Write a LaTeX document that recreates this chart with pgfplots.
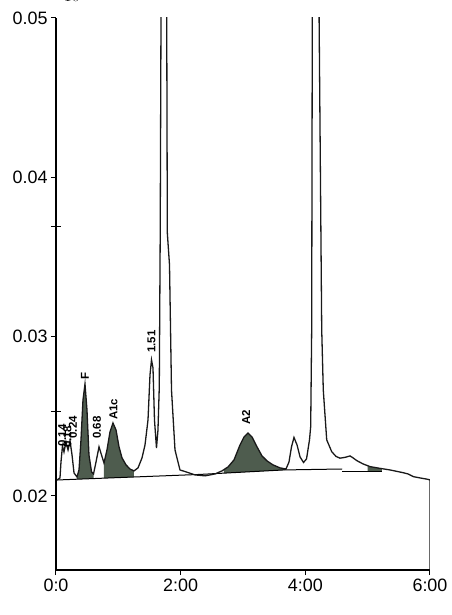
\documentclass[border=0pt]{standalone}
\usepackage{pgfplots}
\pgfplotsset{compat=1.18}
\usepackage{fontspec}
\setmainfont{Liberation Sans}
\definecolor{peakfill}{RGB}{78,92,78}
\definecolor{trace}{RGB}{25,25,25}
\tikzset{lbl/.style={rotate=90, anchor=west, inner sep=0pt, font=\bfseries\fontsize{11.5}{11.5}\selectfont}}

\begin{document}
\begin{tikzpicture}
\begin{axis}[
  scale only axis, width=374bp, height=552bp,
  xmin=0, xmax=6, ymin=0.01535, ymax=0.05,
  axis x line*=bottom, axis y line*=left,
  axis line style={line width=1.1bp, black},
  xtick={0,2,4,6}, xticklabels={0:0,2:00,4:00,6:00},
  ytick={0.02,0.03,0.04,0.05}, yticklabels={0.02,0.03,0.04,0.05},
  tick align=outside, major tick length=5bp,
  tick style={line width=1bp, black},
  ticklabel style={font=\fontsize{18}{18}\selectfont},
  extra y ticks={0.0253,0.0369}, extra y tick labels={},
  extra y tick style={tick align=center, major tick length=10bp},
  clip=true,
]
% shaded peaks
\addplot[fill=peakfill, draw=none] coordinates {(0.337,0.02119)(0.369,0.02163)(0.401,0.02352)(0.433,0.02603)(0.465,0.02703)(0.497,0.02540)(0.529,0.02257)(0.570,0.02151)(0.602,0.02138)(0.602,0.02109)(0.337,0.02105)} -- cycle;
\addplot[fill=peakfill, draw=none] coordinates {(0.770,0.02207)(0.818,0.02289)(0.866,0.02402)(0.914,0.02458)(0.963,0.02414)(1.011,0.02308)(1.059,0.02239)(1.123,0.02195)(1.187,0.02169)(1.251,0.02157)(1.251,0.02118)(0.770,0.02112)} -- cycle;
\addplot[fill=peakfill, draw=none] coordinates {(2.695,0.02165)(2.760,0.02182)(2.856,0.02226)(2.952,0.02320)(3.016,0.02370)(3.080,0.02395)(3.145,0.02370)(3.225,0.02308)(3.305,0.02251)(3.385,0.02220)(3.481,0.02195)(3.594,0.02176)(3.690,0.02169)(3.690,0.02163)(2.695,0.02143)} -- cycle;
\addplot[fill=peakfill, draw=none] coordinates {(5.000,0.02187)(5.038,0.02184)(5.198,0.02173)(5.230,0.02171)(5.230,0.02154)(5.000,0.02154)} -- cycle;
% integration baselines
\addplot[black, line width=1bp] coordinates {(0.016,0.02100)(2.310,0.02135)(3.650,0.02163)(4.590,0.02169)};
\addplot[black, line width=1bp] coordinates {(4.590,0.02154)(5.230,0.02154)};
% trace
\addplot[trace, line width=1.3bp] coordinates {(0.016,0.02100)(0.064,0.02113)(0.080,0.02213)(0.104,0.02314)(0.128,0.02276)(0.160,0.02339)(0.193,0.02289)(0.225,0.02345)(0.257,0.02257)(0.289,0.02144)(0.337,0.02119)(0.369,0.02163)(0.401,0.02352)(0.433,0.02603)(0.465,0.02703)(0.497,0.02540)(0.529,0.02257)(0.570,0.02151)(0.602,0.02138)(0.642,0.02213)(0.690,0.02308)(0.730,0.02257)(0.770,0.02207)(0.818,0.02289)(0.866,0.02402)(0.914,0.02458)(0.963,0.02414)(1.011,0.02308)(1.059,0.02239)(1.123,0.02195)(1.187,0.02169)(1.251,0.02157)(1.316,0.02176)(1.380,0.02239)(1.428,0.02320)(1.476,0.02477)(1.508,0.02760)(1.532,0.02854)(1.556,0.02804)(1.580,0.02477)(1.612,0.02301)(1.636,0.02414)(1.657,0.02684)(1.672,0.03651)(1.685,0.0505)(1.733,0.0600)(1.776,0.0505)(1.786,0.03651)(1.821,0.03450)(1.853,0.02665)(1.909,0.02289)(1.989,0.02163)(2.086,0.02151)(2.230,0.02132)(2.391,0.02126)(2.551,0.02138)(2.663,0.02157)(2.760,0.02182)(2.856,0.02226)(2.952,0.02320)(3.016,0.02370)(3.080,0.02395)(3.145,0.02370)(3.225,0.02308)(3.305,0.02251)(3.385,0.02220)(3.481,0.02195)(3.594,0.02176)(3.690,0.02169)(3.738,0.02213)(3.778,0.02308)(3.818,0.02367)(3.867,0.02320)(3.915,0.02245)(3.971,0.02210)(4.019,0.02232)(4.067,0.02352)(4.086,0.02435)(4.102,0.03042)(4.112,0.0505)(4.166,0.0600)(4.220,0.0505)(4.263,0.03042)(4.288,0.02665)(4.343,0.02352)(4.423,0.02278)(4.492,0.02248)(4.556,0.02237)(4.636,0.02242)(4.717,0.02251)(4.765,0.02239)(4.824,0.02222)(4.925,0.02201)(5.038,0.02184)(5.198,0.02173)(5.359,0.02163)(5.567,0.02146)(5.647,0.02138)(5.733,0.02121)(5.840,0.02113)(5.968,0.02104)(6.000,0.02100)(6.000,0.01535)};
% peak labels
\node[lbl] at (axis cs:0.100,0.02308) {0.14};
\node[lbl] at (axis cs:0.185,0.02300) {0.18};
\node[lbl] at (axis cs:0.270,0.02360) {0.24};
\node[lbl] at (axis cs:0.465,0.02728) {F};
\node[lbl] at (axis cs:0.658,0.02358) {0.68};
\node[lbl] at (axis cs:0.922,0.02477) {A1c};
\node[lbl] at (axis cs:1.532,0.02898) {1.51};
\node[lbl] at (axis cs:3.05,0.02446) {A2};
\end{axis}
\pgfresetboundingbox
\path (-56bp,-45bp) rectangle (396bp,570bp);
\end{tikzpicture}
\end{document}
